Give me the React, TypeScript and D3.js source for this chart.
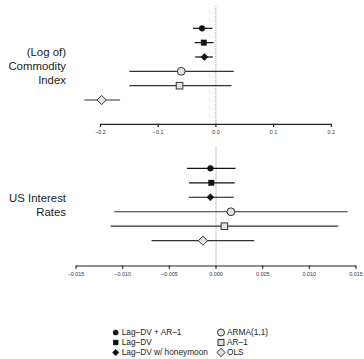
import React, { useEffect, useRef } from 'react';
import * as d3 from 'd3';

const models = ['Lag-DV + AR-1', 'Lag-DV', 'Lag-DV w/ honeymoon', 'ARMA(1,1)', 'AR-1', 'OLS'];
const shapes = ['circle', 'square', 'diamond', 'circle', 'square', 'diamond'];
const filled = [true, true, true, false, false, false];

const commodityEst = [-0.024, -0.021, -0.020, -0.060, -0.063, -0.198];
const commodityLo = [-0.040, -0.037, -0.036, -0.150, -0.150, -0.228];
const commodityHi = [-0.006, -0.004, -0.005, 0.031, 0.027, -0.166];
const commodityTicks = [-0.2, -0.1, 0.0, 0.1, 0.2];

const interestEst = [-0.0006, -0.0005, -0.0006, 0.0016, 0.0009, -0.0014];
const interestLo = [-0.0031, -0.0029, -0.0029, -0.0109, -0.0113, -0.0069];
const interestHi = [0.0021, 0.0020, 0.0019, 0.0141, 0.0131, 0.0041];
const interestTicks = [-0.015, -0.010, -0.005, 0.0, 0.005, 0.010, 0.015];

const legendText = ['Lag–DV + AR–1', 'Lag–DV', 'Lag–DV w/ honeymoon', 'ARMA(1,1)', 'AR–1', 'OLS'];

const FONT = 'Liberation Sans, Arial, Helvetica, sans-serif';

function drawMarker(g: d3.Selection<SVGGElement, unknown, null, undefined>, shape: string, isFilled: boolean, x: number, y: number, scale = 1) {
  const fill = isFilled ? '#111' : '#e3e3e3';
  const stroke = isFilled ? '#111' : '#333';
  if (shape === 'circle') {
    const r = (isFilled ? 2.9 : 3.9) * scale;
    g.append('circle').attr('cx', x).attr('cy', y).attr('r', r)
      .attr('fill', fill).attr('stroke', stroke).attr('stroke-width', isFilled ? 0.5 : 1);
  } else if (shape === 'square') {
    const s = (isFilled ? 5.4 : 6.6) * scale;
    g.append('rect').attr('x', x - s / 2).attr('y', y - s / 2).attr('width', s).attr('height', s)
      .attr('fill', fill).attr('stroke', stroke).attr('stroke-width', isFilled ? 0.5 : 1);
  } else {
    const d = (isFilled ? 3.6 : 4.6) * scale;
    g.append('path').attr('d', `M${x},${y - d}L${x + d},${y}L${x},${y + d}L${x - d},${y}Z`)
      .attr('fill', fill).attr('stroke', stroke).attr('stroke-width', isFilled ? 0.5 : 1);
  }
}

const App: React.FC = () => {
  const svgRef = useRef<SVGSVGElement>(null);
  const width = 364;
  const height = 359;

  useEffect(() => {
    const svgElement = svgRef.current;
    if (!svgElement) return;
    const svg = d3.select(svgElement);
    svg.selectAll('*').remove();
    svg.append('rect').attr('width', width).attr('height', height).attr('fill', '#fff');

    const panels = [
      {
        est: commodityEst, lo: commodityLo, hi: commodityHi, ticks: commodityTicks,
        x: d3.scaleLinear().domain([-0.2, 0.2]).range([100.5, 331.3]),
        y: d3.scalePoint<string>().domain(models).range([28.3, 100]),
        axisY: 124.3, refTop: 6, fmt: d3.format('.1f'),
        labels: ['(Log of)', 'Commodity', 'Index'], labelY: [51.7, 65.7, 79.8],
      },
      {
        est: interestEst, lo: interestLo, hi: interestHi, ticks: interestTicks,
        x: d3.scaleLinear().domain([-0.015, 0.015]).range([76, 356]),
        y: d3.scalePoint<string>().domain(models).range([168.3, 240.7]),
        axisY: 266, refTop: 146.5, fmt: d3.format('.3f'),
        labels: ['US Interest', 'Rates'], labelY: [198.3, 212.3],
      },
    ];

    panels.forEach((p) => {
      const g = svg.append('g') as unknown as d3.Selection<SVGGElement, unknown, null, undefined>;

      // dotted reference line at zero
      g.append('line')
        .attr('x1', p.x(0)).attr('x2', p.x(0))
        .attr('y1', p.refTop).attr('y2', p.axisY - 1)
        .attr('stroke', '#999').attr('stroke-width', 1).attr('stroke-dasharray', '1,1');

      // axis
      const [x0, x1] = p.x.range();
      g.append('line').attr('x1', x0).attr('x2', x1).attr('y1', p.axisY).attr('y2', p.axisY)
        .attr('stroke', '#222').attr('stroke-width', 1.2);
      p.ticks.forEach((t) => {
        g.append('line').attr('x1', p.x(t)).attr('x2', p.x(t))
          .attr('y1', p.axisY - 0.6).attr('y2', p.axisY + 2.8)
          .attr('stroke', '#222').attr('stroke-width', 1.2);
        g.append('text').attr('x', p.x(t)).attr('y', p.axisY + 10)
          .attr('text-anchor', 'middle').attr('font-family', FONT).attr('font-size', 5.4)
          .attr('fill', '#333').text(p.fmt(t).replace('-', '−'));
      });

      // intervals and estimates
      models.forEach((m, i) => {
        const yy = p.y(m) as number;
        g.append('line').attr('x1', p.x(p.lo[i])).attr('x2', p.x(p.hi[i]))
          .attr('y1', yy).attr('y2', yy)
          .attr('stroke', filled[i] ? '#111' : '#333').attr('stroke-width', 1.2);
        drawMarker(g, shapes[i], filled[i], p.x(p.est[i]), yy);
      });

      // row label
      p.labels.forEach((l, i) => {
        g.append('text').attr('x', 66).attr('y', p.labelY[i]).attr('dy', '0.35em')
          .attr('text-anchor', 'end').attr('font-family', FONT).attr('font-size', 11.4)
          .attr('fill', '#222').text(l);
      });
    });

    // legend
    const lg = svg.append('g') as unknown as d3.Selection<SVGGElement, unknown, null, undefined>;
    const colX = [115.7, 221];
    const rowY = [332.5, 342.5, 352.5];
    models.forEach((_, i) => {
      const col = Math.floor(i / 3);
      const row = i % 3;
      drawMarker(lg, shapes[i], filled[i], colX[col], rowY[row], 0.9);
      lg.append('text').attr('x', colX[col] + 6).attr('y', rowY[row]).attr('dy', '0.35em')
        .attr('font-family', FONT).attr('font-size', 8.3).attr('fill', '#222').text(legendText[i]);
    });
  }, []);

  return (
    <svg
      ref={svgRef}
      width={width}
      height={height}
      style={{ position: 'absolute', left: 0, top: 0 }}
    />
  );
};

export default App;
